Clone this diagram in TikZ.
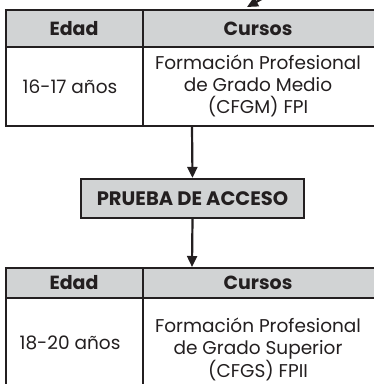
\documentclass[tikz,border=0pt]{standalone}
\usepackage{fontspec}
\setmainfont{Poppins}
\usetikzlibrary{arrows.meta}
\definecolor{ink}{HTML}{231F20}
\definecolor{hdrgray}{HTML}{D1D3D4}
\tikzset{
  rule/.style={draw=ink, line width=2.4pt},
  vrule/.style={draw=ink, line width=2.2pt},
  hdr/.style={text=ink, font=\fontsize{19}{22}\selectfont\bfseries, inner sep=0pt},
  bodytxt/.style={text=ink, font=\fontsize{18.5}{22}\selectfont, align=center, inner sep=0pt},
  pbox/.style={draw=ink, line width=2.2pt, fill=hdrgray, text=ink, minimum width=223pt, minimum height=39pt, inner sep=0pt, font=\fontsize{19.5}{22}\selectfont\bfseries},
  arr/.style={draw=ink, line width=2.2pt, -{Triangle[length=11pt,width=10pt]}}
}
\begin{document}
\begin{tikzpicture}[x=1pt,y=-1pt]
\clip (0,0) rectangle (374,384);
\fill[white] (0,0) rectangle (374,384);
% upper table
\fill[hdrgray] (6,10) rectangle (380,47);
\draw[rule] (5,10) -- (380,10);
\draw[rule] (6,47) -- (380,47);
\draw[rule] (6,126) -- (380,126);
\draw[vrule] (6,9) -- (6,127);
\draw[vrule] (143,10) -- (143,126);
\node[hdr] (e1) at (74,29) {Edad};
\node[hdr] (c1) at (258,29) {Cursos};
\node[bodytxt] (a1) at (70,87) {16-17 años};
\node[bodytxt] (f1) at (258,86) {Formación Profesional\\de Grado Medio\\(CFGM) FPI};
% incoming arrow at top
\coordinate (inA) at (278,-10);
\coordinate (inB) at (247,7);
\draw[arr] (inA) -- (inB);
% prueba
\node[pbox] (p) at (192.5,198.5) {PRUEBA DE ACCESO};
\coordinate (t1b) at (192,127);
\coordinate (t2t) at (192,267);
\draw[arr] (t1b) -- (p.north);
\draw[arr] (p.south) -- (t2t);
% lower table
\fill[hdrgray] (6,268) rectangle (380,298);
\draw[rule] (5,268) -- (380,268);
\draw[rule] (6,298) -- (380,298);
\draw[vrule] (6,267) -- (6,390);
\draw[vrule] (143,268) -- (143,390);
\node[hdr] (e2) at (74,283) {Edad};
\node[hdr] (c2) at (258,283) {Cursos};
\node[bodytxt] (a2) at (70,343) {18-20 años};
\node[bodytxt] (f2) at (258,349) {Formación Profesional\\de Grado Superior\\(CFGS) FPII};
\end{tikzpicture}
\end{document}
